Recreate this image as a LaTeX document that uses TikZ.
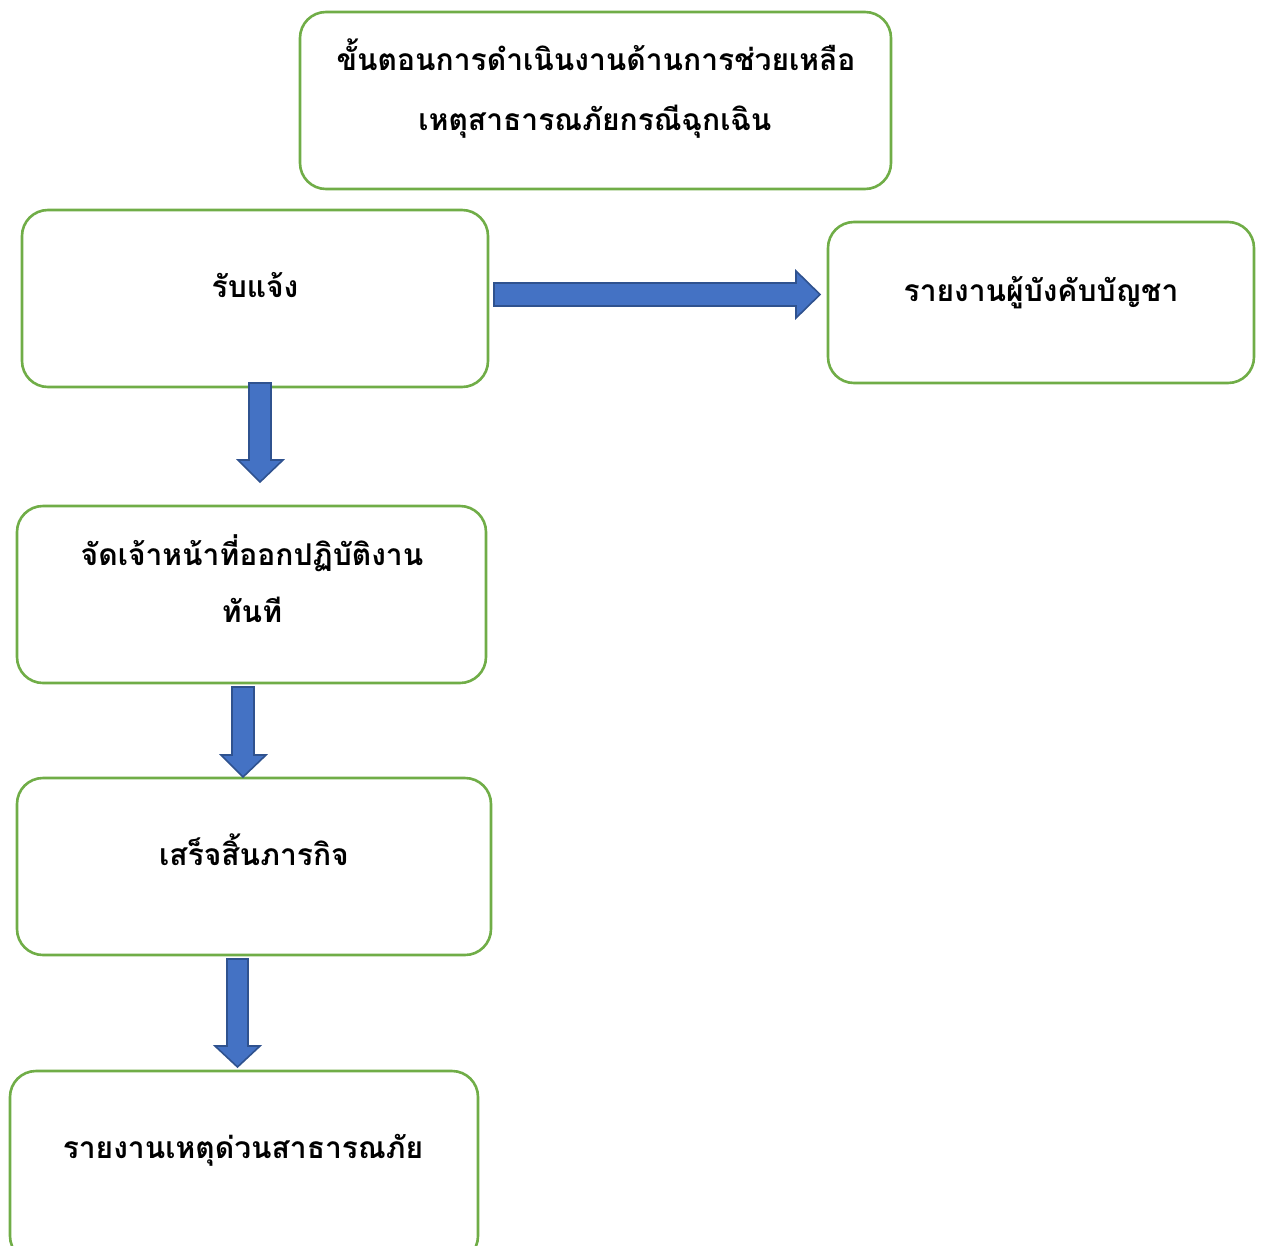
\documentclass[tikz,border=0pt]{standalone}
\usepackage{fontspec}
\newfontfamily\thaifont[Script=Thai]{Loma}
\definecolor{boxgreen}{HTML}{70AD47}
\definecolor{arrfill}{HTML}{4472C4}
\definecolor{arrline}{HTML}{2F528F}
\begin{document}
\begin{tikzpicture}[x=1pt,y=-1pt,
  box/.style={draw=boxgreen,line width=2.6pt,rounded corners=26pt,fill=white},
  txt/.style={font=\thaifont\bfseries\fontsize{30}{36}\selectfont,inner sep=0pt,anchor=base},
  blk/.style={fill=arrfill,draw=arrline,line width=1.6pt,line join=miter}]
\useasboundingbox (0,0) rectangle (1263,1245);
% boxes
\draw[box] (300,12) rectangle (891,189);
\draw[box] (22,210) rectangle (488,387);
\draw[box] (828,222) rectangle (1254,383);
\draw[box] (17,506) rectangle (486,683);
\draw[box] (17,778) rectangle (491,955);
\draw[box] (10,1071) rectangle (478,1262);
% texts
\node[txt] (t0a) at (596,70) {ขั้นตอนการดำเนินงานด้านการช่วยเหลือ};
\node[txt] (t0b) at (595,130) {เหตุสาธารณภัยกรณีฉุกเฉิน};
\node[txt] (t1) at (255,297) {รับแจ้ง};
\node[txt] (t2) at (1041,301) {รายงานผู้บังคับบัญชา};
\node[txt] (t3a) at (252,565) {จัดเจ้าหน้าที่ออกปฏิบัติงาน};
\node[txt] (t3b) at (252,622) {ทันที};
\node[txt] (t4) at (254,865) {เสร็จสิ้นภารกิจ};
\node[txt] (t5) at (243,1158) {รายงานเหตุด่วนสาธารณภัย};
% block arrows
\draw[blk] (494,283) -- (796,283) -- (796,271) -- (820,294.5) -- (796,318) -- (796,306) -- (494,306) -- cycle;
\draw[blk] (249,383) -- (271,383) -- (271,460) -- (283,460) -- (260,482) -- (238,460) -- (249,460) -- cycle;
\draw[blk] (232,687) -- (254,687) -- (254,755) -- (266,755) -- (243,777) -- (221,755) -- (232,755) -- cycle;
\draw[blk] (227,959) -- (248,959) -- (248,1046) -- (260,1046) -- (237.5,1067) -- (215,1046) -- (227,1046) -- cycle;
\end{tikzpicture}
\end{document}
